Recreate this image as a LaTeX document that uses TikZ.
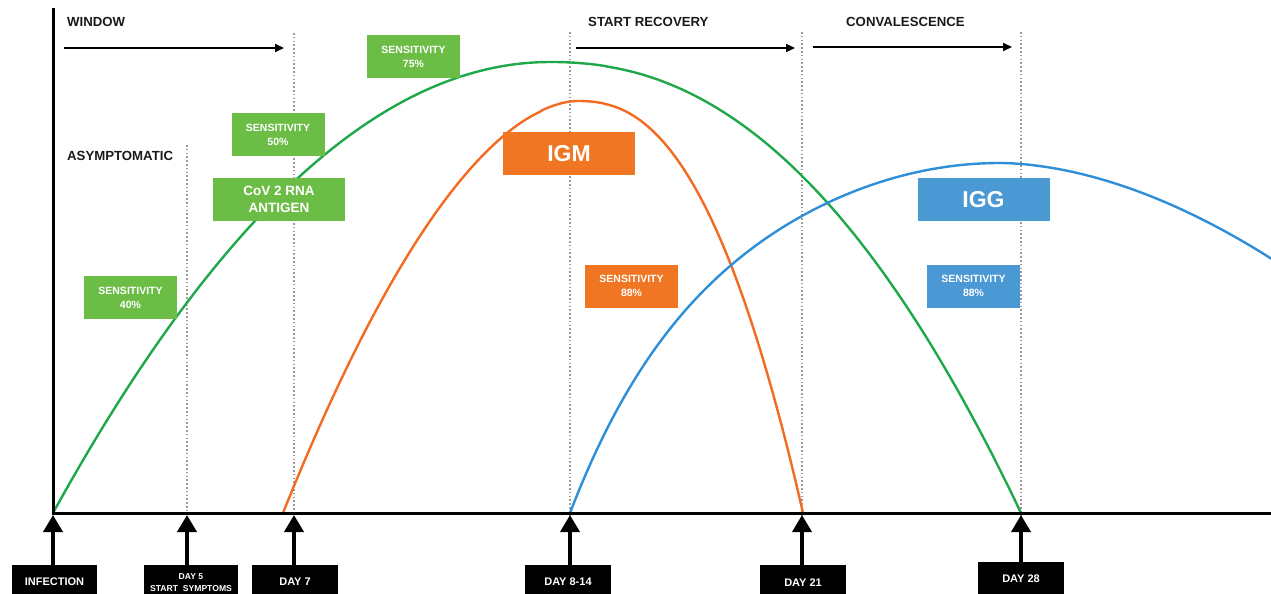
\documentclass[tikz,border=0pt]{standalone}
\usepackage{fontspec}
\setmainfont{Liberation Sans}
\usetikzlibrary{arrows.meta}
\definecolor{gbox}{HTML}{6CBD45}
\definecolor{gline}{HTML}{1FA84A}
\definecolor{obox}{HTML}{F07623}
\definecolor{oline}{HTML}{F26B21}
\definecolor{bbox}{HTML}{4A98D4}
\definecolor{bline}{HTML}{2E8FD9}
\definecolor{dotgray}{HTML}{9A9A9A}
\definecolor{labelgray}{HTML}{1A1A1A}
\begin{document}
\begin{tikzpicture}[x=1pt,y=-1pt,
  cbox/.style={fill=#1, text=white, inner sep=0pt, minimum height=43pt, align=center},
  sens/.style={cbox=#1, minimum width=93pt, font=\fontsize{10.5}{14}\selectfont\bfseries},
  bigbox/.style={cbox=#1, minimum width=132pt, font=\fontsize{23}{26}\selectfont\bfseries},
  daybox/.style={fill=black, text=white, inner sep=0pt, minimum height=34pt, anchor=north, align=center, font=\fontsize{11}{12}\selectfont\bfseries},
  toplabel/.style={anchor=base west, inner sep=0pt, text=labelgray, font=\fontsize{13.2}{16}\selectfont\bfseries},
  vdot/.style={dotgray, line width=1.4pt, dash pattern=on 1.6pt off 2.2pt},
  curve/.style={line width=2.4pt, line cap=round, line join=round},
  uparrow/.style={line width=3.8pt, -{Triangle[width=19pt,length=17pt]}},
  phase/.style={line width=1.8pt, -{Triangle[width=8pt,length=9pt]}}
]
\useasboundingbox (0,0) rectangle (1271,594);
\clip (0,0) rectangle (1271,594);

% axis coordinates
\coordinate (ytop) at (53,8);
\coordinate (o) at (53,513);
\coordinate (xend) at (1271,513);
\coordinate (a0) at (53,515);
\coordinate (a5) at (187,515);
\coordinate (a7) at (294,515);
\coordinate (a8) at (570,515);
\coordinate (a21) at (802,515);
\coordinate (a28) at (1021,515);
\coordinate (t5) at (187,145);
\coordinate (t7) at (294,33);
\coordinate (t8) at (570,32);
\coordinate (t21) at (802,32);
\coordinate (t28) at (1021,32);

% dotted guide lines
\draw[vdot] (t5) -- (a5);
\draw[vdot] (t7) -- (a7);
\draw[vdot] (t8) -- (a8);
\draw[vdot] (t21) -- (a21);
\draw[vdot] (t28) -- (a28);

% curves
\draw[curve, gline, samples=80, variable=\t]
  plot[domain=1:0] ({550-497*\t},{62+451*\t*\t})
  -- plot[domain=0.001:1] ({550+471*\t},{62+451*pow(\t,2.2)});
\draw[curve, oline, samples=80, variable=\t]
  plot[domain=1:0.001] ({577-294*\t},{101+412*pow(\t,1.78)})
  -- plot[domain=0.001:1] ({577+226*\t},{101+412*pow(\t,2.4)});
\draw[curve, bline, samples=80, variable=\t]
  plot[domain=1:0] ({1000-430*\t},{163+350*(0.7*\t*\t+0.3*\t*\t*\t*\t*\t*\t)})
  -- plot[domain=0.001:1.04] ({1000+267*\t},{163+93*pow(\t,1.8)});

% axes
\draw[line width=3pt] (ytop) -- (o) -- (xend);

% phase labels and arrows
\node[toplabel] (window) at (67,27) {WINDOW};
\node[toplabel] (recovery) at (588,27) {START RECOVERY};
\node[toplabel] (conval) at (846,27) {CONVALESCENCE};
\node[toplabel] (asym) at (67,160) {ASYMPTOMATIC};
\coordinate (w0) at (64,48);
\coordinate (w1) at (284,48);
\coordinate (r0) at (576,48);
\coordinate (r1) at (795,48);
\coordinate (c0) at (813,47);
\coordinate (c1) at (1012,47);
\draw[phase] (w0) -- (w1);
\draw[phase] (r0) -- (r1);
\draw[phase] (c0) -- (c1);

% coloured boxes
\node[sens=gbox] (s75) at (413.5,56.5) {SENSITIVITY\\75\%};
\node[sens=gbox] (s50) at (278,134.5) {SENSITIVITY\\50\%};
\node[cbox=gbox, minimum width=132pt, font=\fontsize{13.5}{17}\selectfont\bfseries] (cov) at (279,199.5) {CoV 2 RNA\\ANTIGEN};
\node[sens=gbox] (s40) at (130.5,297.5) {SENSITIVITY\\40\%};
\node[bigbox=obox] (igm) at (569,153.5) {IGM};
\node[sens=obox] (s88o) at (631.5,286) {SENSITIVITY\\88\%};
\node[bigbox=bbox] (igg) at (983.5,199.5) {IGG};
\node[sens=bbox] (s88b) at (973.5,286) {SENSITIVITY\\88\%};

% day boxes
\node[daybox, minimum width=85pt] (inf) at (54.5,565) {INFECTION};
\node[daybox, minimum width=94pt, font=\fontsize{8.6}{12}\selectfont\bfseries] (d5) at (191,565) {DAY 5\\START\ \ SYMPTOMS};
\node[daybox, minimum width=86pt] (d7) at (295,565) {DAY 7};
\node[daybox, minimum width=86pt] (d8) at (568,565) {DAY 8-14};
\node[daybox, minimum width=86pt] (d21) at (803,565) {DAY 21};
\node[daybox, minimum width=86pt] (d28) at (1021,562) {DAY 28};

% up arrows
\draw[uparrow] (inf.north -| a0) -- (a0);
\draw[uparrow] (d5.north -| a5) -- (a5);
\draw[uparrow] (d7.north -| a7) -- (a7);
\draw[uparrow] (d8.north -| a8) -- (a8);
\draw[uparrow] (d21.north -| a21) -- (a21);
\draw[uparrow] (d28.north -| a28) -- (a28);
\end{tikzpicture}
\end{document}
